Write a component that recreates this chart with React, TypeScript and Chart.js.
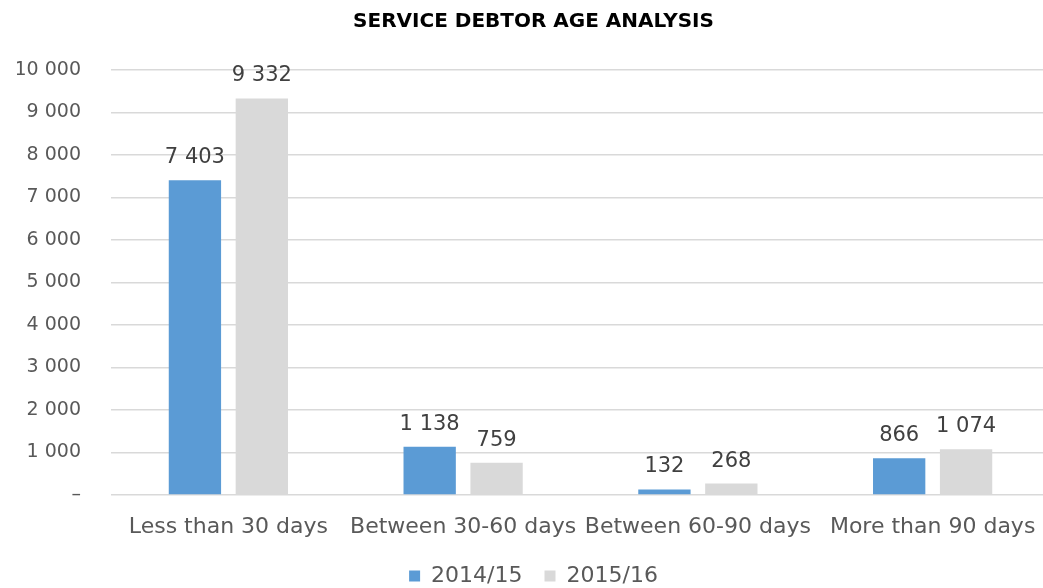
import React, { useEffect, useRef } from "react";
import { Chart, registerables } from "chart.js";

Chart.register(...registerables);

const categories = ["Less than 30 days", "Between 30-60 days", "Between 60-90 days", "More than 90 days"];
const series2014 = [7403, 1138, 132, 866];
const series2015 = [9332, 759, 268, 1074];
const seriesNames = ["2014/15", "2015/16"];

const FONT = "'DejaVu Sans', sans-serif";

const fmt = (n: number) => (n === 0 ? "–" : n.toString().replace(/\B(?=(\d{3})+(?!\d))/g, " "));

const labelPlugin = {
  id: "valueLabels",
  afterDatasetsDraw(chart: any) {
    const ctx = chart.ctx;
    ctx.save();
    ctx.font = `21px ${FONT}`;
    ctx.fillStyle = "#404040";
    ctx.textAlign = "center";
    ctx.textBaseline = "alphabetic";
    chart.data.datasets.forEach((ds: any, i: number) => {
      const meta = chart.getDatasetMeta(i);
      meta.data.forEach((el: any, j: number) => {
        ctx.fillText(fmt(ds.data[j]), el.x, el.y - 17);
      });
    });
    ctx.restore();
  },
};

export default function App() {
  const ref = useRef<HTMLCanvasElement>(null);
  useEffect(() => {
    document.body.style.margin = "0";
    const chart = new Chart(ref.current!, {
      type: "bar",
      data: {
        labels: categories,
        datasets: [
          { label: seriesNames[0], data: series2014, backgroundColor: "#5B9BD5", barPercentage: 0.782, categoryPercentage: 0.57 },
          { label: seriesNames[1], data: series2015, backgroundColor: "#D9D9D9", barPercentage: 0.782, categoryPercentage: 0.57 },
        ],
      },
      options: {
        animation: false,
        responsive: false,
        layout: { padding: { left: 17, right: 17, top: 0, bottom: -9 } },
        plugins: {
          title: {
            display: true,
            text: "SERVICE DEBTOR AGE ANALYSIS",
            color: "#000",
            font: { family: FONT, size: 20, weight: "bold" },
            padding: { top: 10, bottom: 36 },
          },
          legend: {
            position: "bottom",
            labels: {
              color: "#595959",
              font: { family: FONT, size: 22 },
              boxWidth: 11,
              boxHeight: 11,
              padding: 22,
            },
          },
          tooltip: { enabled: false },
        },
        scales: {
          x: {
            grid: { display: false },
            border: { display: false },
            ticks: { color: "#595959", font: { family: FONT, size: 22 }, maxRotation: 0, autoSkip: false, padding: 11 },
            afterFit: (scale: any) => {
              scale.paddingLeft = 0;
              scale.paddingRight = 0;
              scale.height = 48;
            },
          },
          y: {
            min: 0,
            max: 10000,
            ticks: {
              stepSize: 1000,
              color: "#595959",
              font: { family: FONT, size: 19 },
              padding: 30,
              callback: (v: any) => fmt(Number(v)),
            },
            afterFit: (scale: any) => {
              scale.width = 94;
            },
            grid: { color: "#D9D9D9", lineWidth: 1.5, drawTicks: false },
            border: { display: false },
          },
        },
      },
      plugins: [labelPlugin],
    });
    return () => chart.destroy();
  }, []);
  return (
    <div style={{ position: "absolute", left: 0, top: 0, width: 1043, height: 588, overflow: "hidden" }}>
      <canvas ref={ref} width={1067} height={588} style={{ width: 1067, height: 588 }} />
    </div>
  );
}
